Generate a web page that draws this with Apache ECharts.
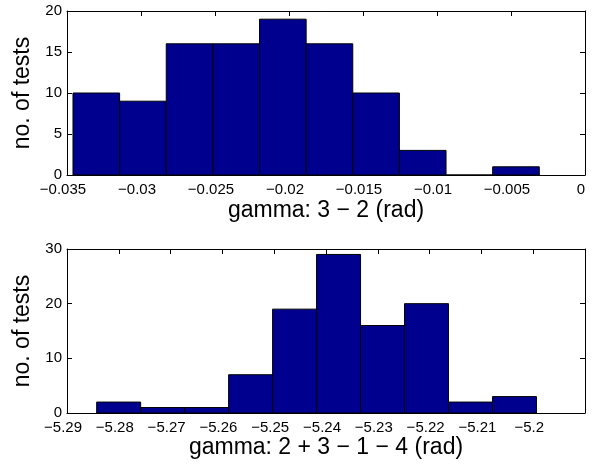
<!DOCTYPE html>
<html>
<head>
<meta charset="utf-8">
<script src="https://cdn.jsdelivr.net/npm/echarts@6/dist/echarts.min.js"></script>
<style>
html,body{margin:0;padding:0;background:#fff;}
#c{width:601px;height:466px;}
</style>
</head>
<body>
<div id="c"></div>
<script>
// ---- data ----
const topBinStart = -0.034595;
const topBinWidth = 0.0031507;
const topCounts = [10, 9, 16, 16, 19, 16, 10, 3, 0, 1];
const topXTicks = { min: -0.035, max: 0, interval: 0.005 };
const topYTicks = { min: 0, max: 20, interval: 5 };
const topXName = 'gamma: 3 \u2212 2 (rad)';

const botBinStart = -5.28427;
const botBinWidth = 0.00849;
const botCounts = [2, 1, 1, 7, 19, 29, 16, 20, 2, 3];
const botXTicks = { min: -5.29, max: -5.19, interval: 0.01 };
const botYTicks = { min: 0, max: 30, interval: 10 };
const botXName = 'gamma: 2 + 3 \u2212 1 \u2212 4 (rad)';

const yName = 'no. of tests';

// ---- build ----
function bins(start, width, counts) {
  return counts.map((c, i) => [start + i * width, start + (i + 1) * width, c]);
}
const FONT = '"Liberation Sans", Arial, Helvetica, sans-serif';
const fmt = (v, dec) => {
  const s = String(parseFloat(v.toFixed(dec)));
  return s.replace('-', '\u2212');
};

function xAxes(gi, t, name, gap, hideLast) {
  return [{
    type: 'value', gridIndex: gi, position: 'bottom',
    min: t.min, max: t.max, interval: t.interval,
    name: name, nameLocation: 'middle', nameGap: gap,
    nameTextStyle: { fontFamily: FONT, fontSize: 23, color: '#000' },
    axisLine: { show: true, onZero: false, lineStyle: { color: '#000', width: 1 } },
    axisTick: { show: true, inside: true, length: 5, lineStyle: { color: '#000' } },
    axisLabel: {
      show: true, margin: 7, fontFamily: FONT, fontSize: 15, color: '#000',
      padding: [0, 8, 0, 0],
      formatter: v => (hideLast && v > t.max - t.interval / 2) ? '' : fmt(v, 4)
    },
    splitLine: { show: false }
  }, {
    type: 'value', gridIndex: gi, position: 'top',
    min: t.min, max: t.max, interval: t.interval,
    axisLine: { show: true, onZero: false, lineStyle: { color: '#000', width: 1 } },
    axisTick: { show: true, inside: true, length: 5, lineStyle: { color: '#000' } },
    axisLabel: { show: false },
    splitLine: { show: false }
  }];
}
function yAxes(gi, t) {
  return [{
    type: 'value', gridIndex: gi, position: 'left',
    min: t.min, max: t.max, interval: t.interval,
    name: yName, nameLocation: 'middle', nameGap: 29, nameRotate: 90,
    nameTextStyle: { fontFamily: FONT, fontSize: 23, color: '#000' },
    axisLine: { show: true, onZero: false, lineStyle: { color: '#000', width: 1 } },
    axisTick: { show: true, inside: true, length: 5, lineStyle: { color: '#000' } },
    axisLabel: { show: true, margin: 5, fontFamily: FONT, fontSize: 15, color: '#000' },
    splitLine: { show: false }
  }, {
    type: 'value', gridIndex: gi, position: 'right',
    min: t.min, max: t.max, interval: t.interval,
    axisLine: { show: true, onZero: false, lineStyle: { color: '#000', width: 1 } },
    axisTick: { show: true, inside: true, length: 5, lineStyle: { color: '#000' } },
    axisLabel: { show: false },
    splitLine: { show: false }
  }];
}
function histSeries(xi, yi, data) {
  return {
    type: 'custom', xAxisIndex: xi, yAxisIndex: yi,
    data: data,
    encode: { x: [0, 1], y: 2 },
    clip: true,
    renderItem: function (params, api) {
      const p0 = api.coord([api.value(0), api.value(2)]);
      const p1 = api.coord([api.value(1), 0]);
      return {
        type: 'rect',
        shape: { x: p0[0], y: p0[1], width: p1[0] - p0[0], height: p1[1] - p0[1] },
        style: { fill: '#00008F', stroke: '#000', lineWidth: 1 }
      };
    }
  };
}

const chart = echarts.init(document.getElementById('c'), null, { renderer: 'canvas' });
chart.setOption({
  animation: false,
  backgroundColor: '#fff',
  grid: [
    { left: 67, right: 16, top: 11, height: 164 },
    { left: 67, right: 16, top: 249, height: 164 }
  ],
  xAxis: [].concat(xAxes(0, topXTicks, topXName, 24, false), xAxes(1, botXTicks, botXName, 19, true)),
  yAxis: [].concat(yAxes(0, topYTicks), yAxes(1, botYTicks)),
  series: [
    histSeries(0, 0, bins(topBinStart, topBinWidth, topCounts)),
    histSeries(2, 2, bins(botBinStart, botBinWidth, botCounts))
  ]
});
</script>
</body>
</html>
